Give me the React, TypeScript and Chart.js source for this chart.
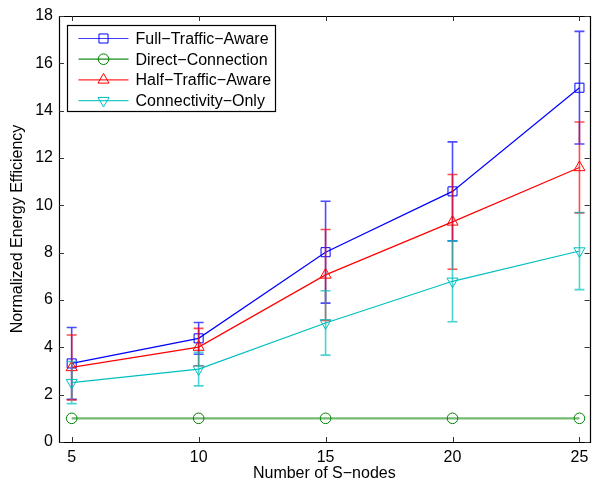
import { useEffect, useRef } from "react";
import { Chart, registerables } from "chart.js";
import { drawPoint } from "chart.js/helpers";

Chart.register(...registerables);

// Number of S-nodes on the x axis
const nodeCounts = [5, 10, 15, 20, 25];

// Mean normalized energy efficiency and its standard deviation per scheme
const fullTrafficAware = [3.32, 4.38, 8.02, 10.59, 14.97];
const fullTrafficAwareErr = [1.52, 0.67, 2.15, 2.09, 2.38];

const directConnection = [1, 1, 1, 1, 1];
const directConnectionErr = [0, 0, 0, 0, 0];

const halfTrafficAware = [3.15, 4.01, 7.06, 9.3, 11.6];
const halfTrafficAwareErr = [1.37, 0.79, 1.92, 2.0, 1.92];

const connectivityOnly = [2.51, 3.08, 5.03, 6.79, 8.07];
const connectivityOnlyErr = [0.89, 0.71, 1.36, 1.71, 1.63];

const yTicks = [0, 2, 4, 6, 8, 10, 12, 14, 16, 18];

const FONT = '"Liberation Sans", Arial, Helvetica, sans-serif';
const CAP = 5;

type Series = {
  label: string;
  mean: number[];
  err: number[];
  line: string;
  legendLine: string;
  marker: string;
  bar: string;
  lineWidth: number;
  pointStyle: string;
  rotation: number;
  radius: number;
};

const SERIES: Series[] = [
  {
    label: "Full\u2212Traffic\u2212Aware",
    mean: fullTrafficAware,
    err: fullTrafficAwareErr,
    line: "#0000ff",
    legendLine: "rgba(0,0,255,0.75)",
    marker: "#0000ff",
    bar: "rgba(0,0,255,0.7)",
    lineWidth: 1.2,
    pointStyle: "rect",
    rotation: 0,
    radius: 6.4,
  },
  {
    label: "Direct\u2212Connection",
    mean: directConnection,
    err: directConnectionErr,
    line: "rgba(0,128,0,0.55)",
    legendLine: "rgba(0,128,0,0.9)",
    marker: "#008000",
    bar: "rgba(0,128,0,0.7)",
    lineWidth: 2.2,
    pointStyle: "circle",
    rotation: 0,
    radius: 5.3,
  },
  {
    label: "Half\u2212Traffic\u2212Aware",
    mean: halfTrafficAware,
    err: halfTrafficAwareErr,
    line: "#ff0000",
    legendLine: "rgba(255,0,0,0.85)",
    marker: "#ff0000",
    bar: "rgba(255,0,0,0.7)",
    lineWidth: 1.2,
    pointStyle: "triangle",
    rotation: 0,
    radius: 6.4,
  },
  {
    label: "Connectivity\u2212Only",
    mean: connectivityOnly,
    err: connectivityOnlyErr,
    line: "#00bfbf",
    legendLine: "rgba(0,191,191,0.85)",
    marker: "#00bfbf",
    bar: "rgba(0,191,191,0.7)",
    lineWidth: 1.2,
    pointStyle: "triangle",
    rotation: 180,
    radius: 6.4,
  },
];

// Vertical error bars with caps, painted just before each dataset's own line
const errorBarPlugin = {
  id: "errorBars",
  beforeDatasetDraw(chart: any, args: any) {
    const s = SERIES[args.index];
    const { ctx } = chart;
    const xs = chart.scales.x;
    const ys = chart.scales.y;
    ctx.save();
    ctx.strokeStyle = s.bar;
    ctx.lineWidth = 1.6;
    nodeCounts.forEach((n, i) => {
      const e = s.err[i];
      if (!e) return;
      const px = xs.getPixelForValue(n);
      const top = ys.getPixelForValue(s.mean[i] + e);
      const bot = ys.getPixelForValue(s.mean[i] - e);
      ctx.beginPath();
      ctx.moveTo(px, top);
      ctx.lineTo(px, bot);
      ctx.moveTo(px - CAP, top);
      ctx.lineTo(px + CAP, top);
      ctx.moveTo(px - CAP, bot);
      ctx.lineTo(px + CAP, bot);
      ctx.stroke();
    });
    ctx.restore();
  },
};

// Axes box with inward tick marks on all four sides, plus the boxed legend
const frameLegendPlugin = {
  id: "frameLegend",
  afterDraw(chart: any) {
    const { ctx, chartArea } = chart;
    const { left, right, top, bottom } = chartArea;
    const xs = chart.scales.x;
    const ys = chart.scales.y;
    const TL = 5;
    ctx.save();
    ctx.strokeStyle = "#000";
    ctx.lineWidth = 1.2;
    ctx.beginPath();
    ctx.rect(Math.round(left) + 0.5, Math.round(top) + 0.5, Math.round(right - left), Math.round(bottom - top));
    ctx.stroke();
    ctx.lineWidth = 1;
    ctx.strokeStyle = "#333";
    ctx.beginPath();
    nodeCounts.forEach((n) => {
      const px = Math.round(xs.getPixelForValue(n)) + 0.5;
      ctx.moveTo(px, bottom);
      ctx.lineTo(px, bottom - TL);
      ctx.moveTo(px, top);
      ctx.lineTo(px, top + TL);
    });
    yTicks.forEach((v) => {
      const py = Math.round(ys.getPixelForValue(v)) + 0.5;
      ctx.moveTo(left, py);
      ctx.lineTo(left + TL, py);
      ctx.moveTo(right, py);
      ctx.lineTo(right - TL, py);
    });
    ctx.stroke();

    // legend
    const lx = Math.round(left) + 8.5;
    const ly = Math.round(top) + 9.5;
    const lw = 208;
    const lh = 86;
    ctx.fillStyle = "#fff";
    ctx.fillRect(lx, ly, lw, lh);
    ctx.strokeStyle = "#000";
    ctx.lineWidth = 1.2;
    ctx.strokeRect(lx, ly, lw, lh);
    ctx.font = `16px ${FONT}`;
    ctx.textBaseline = "middle";
    ctx.textAlign = "left";
    SERIES.forEach((s, i) => {
      const ry = ly + 13 + i * 20.7;
      ctx.strokeStyle = s.legendLine;
      ctx.lineWidth = 1.2;
      ctx.beginPath();
      ctx.moveTo(lx + 11, ry);
      ctx.lineTo(lx + 61, ry);
      ctx.stroke();
      ctx.strokeStyle = s.marker;
      ctx.fillStyle = "rgba(0,0,0,0)";
      ctx.lineWidth = 1;
      drawPoint(ctx, { pointStyle: s.pointStyle, rotation: s.rotation, radius: s.radius, borderWidth: 1 } as any, lx + 36, ry);
      ctx.fillStyle = "#000";
      ctx.fillText(s.label, lx + 68, ry + 1);
    });
    ctx.restore();
  },
};

export default function App() {
  const canvasRef = useRef<HTMLCanvasElement | null>(null);

  useEffect(() => {
    document.body.style.margin = "0";
    const canvas = canvasRef.current;
    if (!canvas) return;

    const chart = new Chart(canvas, {
      type: "line",
      data: {
        datasets: SERIES.map((s, i) => ({
          label: s.label,
          data: nodeCounts.map((n, k) => ({ x: n, y: s.mean[k] })),
          borderColor: s.line,
          borderWidth: s.lineWidth,
          backgroundColor: "rgba(0,0,0,0)",
          pointStyle: s.pointStyle as any,
          rotation: s.rotation,
          pointRadius: s.radius,
          pointHoverRadius: s.radius,
          pointBorderColor: s.marker,
          pointBackgroundColor: "rgba(0,0,0,0)",
          pointBorderWidth: 1,
          fill: false,
          tension: 0,
          clip: false as any,
          order: SERIES.length - 1 - i,
        })),
      },
      options: {
        animation: false,
        responsive: false,
        events: [],
        layout: { padding: { top: 16, right: 3, left: 0, bottom: 0 } },
        plugins: {
          legend: { display: false },
          tooltip: { enabled: false },
        },
        scales: {
          x: {
            type: "linear",
            min: 4.5,
            max: 25.4,
            grid: { display: false, drawTicks: false },
            border: { display: false },
            ticks: {
              color: "#000",
              font: { family: FONT, size: 16 },
              padding: 6,
              maxRotation: 0,
            },
            afterBuildTicks: (scale: any) => {
              scale.ticks = nodeCounts.map((v) => ({ value: v }));
            },
            afterFit: (scale: any) => {
              scale.height = 44;
              scale.paddingLeft = 0;
              scale.paddingRight = 0;
            },
            title: {
              display: true,
              text: "Number of S\u2212nodes",
              color: "#000",
              font: { family: FONT, size: 16, lineHeight: 1.2 },
              padding: { top: 0, bottom: 2.4 },
            },
          },
          y: {
            type: "linear",
            min: 0,
            max: 18,
            grid: { display: false, drawTicks: false },
            border: { display: false },
            ticks: {
              stepSize: 2,
              color: "#000",
              font: { family: FONT, size: 16 },
              padding: 6,
            },
            afterBuildTicks: (scale: any) => {
              scale.ticks = yTicks.map((v) => ({ value: v }));
            },
            afterFit: (scale: any) => {
              scale.width = 59;
              scale.paddingTop = 0;
              scale.paddingBottom = 0;
            },
            title: {
              display: true,
              text: "Normalized Energy Efficiency",
              color: "#000",
              font: { family: FONT, size: 16, lineHeight: 1.2 },
              padding: { top: 8.4, bottom: 0 },
            },
          },
        },
      },
      plugins: [errorBarPlugin, frameLegendPlugin],
    });

    return () => chart.destroy();
  }, []);

  return (
    <div style={{ width: 597, height: 486, background: "#fff" }}>
      <canvas ref={canvasRef} width={597} height={486} style={{ display: "block" }} />
    </div>
  );
}
